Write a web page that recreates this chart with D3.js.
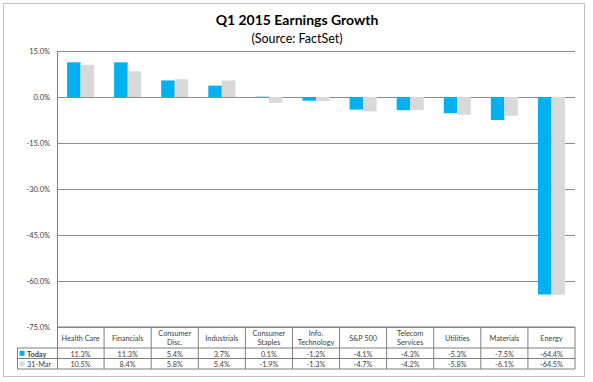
<!DOCTYPE html>
<html><head><meta charset="utf-8">
<script src="https://cdn.jsdelivr.net/npm/d3@7"></script>
<style>body{margin:0;background:#fff}svg{display:block}text{font-family:Lato,"Open Sans",sans-serif}</style>
</head><body>
<svg id="c" width="593" height="382"></svg>
<script>
const categories = ["Health Care","Financials","Consumer Disc.","Industrials","Consumer Staples","Info. Technology","S&P 500","Telecom Services","Utilities","Materials","Energy"];
const headerLines = [["Health Care"],["Financials"],["Consumer","Disc."],["Industrials"],["Consumer","Staples"],["Info.","Technology"],["S&P 500"],["Telecom","Services"],["Utilities"],["Materials"],["Energy"]];
const seriesNames = ["Today","31-Mar"];
const today = [11.3, 11.3, 5.4, 3.7, 0.1, -1.2, -4.1, -4.3, -5.3, -7.5, -64.4];
const mar31 = [10.5, 8.4, 5.8, 5.4, -1.9, -1.3, -4.7, -4.2, -5.8, -6.1, -64.5];
const yTicks = [15, 0, -15, -30, -45, -60, -75];
const colors = ["#00B0F0", "#D9D9D9"];

const svg = d3.select("#c");
const series = [today, mar31];
const fmt = v => v.toFixed(1) + "%";

// outer frame
svg.append("rect").attr("x",3.5).attr("y",3.5).attr("width",581).attr("height",373)
  .attr("fill","#fff").attr("stroke","#bfbfbf");

svg.append("text").attr("x",297).attr("y",25).attr("text-anchor","middle")
  .attr("font-size",14).attr("font-weight","bold").attr("fill","#000").text("Q1 2015 Earnings Growth");
svg.append("text").attr("x",297).attr("y",43).attr("text-anchor","middle")
  .attr("font-size",12.5).attr("fill","#000").text("(Source: FactSet)");

const L = 57, R = 575, T = 51, B = 327;
const y = d3.scaleLinear().domain([-75, 15]).range([B, T]);
const x0 = d3.scaleBand().domain(categories).range([L, R]).padding(0);
const bw = x0.bandwidth();
const x1 = d3.scaleBand().domain(seriesNames).range([bw*0.213, bw*0.787]).padding(0);

// gridlines
const yAxis = d3.axisLeft(y).tickValues(yTicks).tickSize(-(R-L)).tickFormat(fmt).tickPadding(7);
const ga = svg.append("g").attr("transform",`translate(${L},0)`).call(yAxis);
ga.select(".domain").remove();
ga.selectAll(".tick line").attr("stroke","#8c8c8c").attr("stroke-width",1);
ga.selectAll(".tick text").attr("font-size",7.5).attr("fill","#404040").attr("font-family","Lato,sans-serif");

// bars
categories.forEach((c, i) => {
  series.forEach((s, k) => {
    const v = s[i];
    svg.append("rect")
      .attr("x", x0(c) + x1(seriesNames[k]))
      .attr("width", x1.bandwidth())
      .attr("y", y(Math.max(0, v)))
      .attr("height", Math.abs(y(v) - y(0)))
      .attr("fill", colors[k]);
  });
});

// left axis line
svg.append("line").attr("x1",L+0.5).attr("x2",L+0.5).attr("y1",T).attr("y2",369).attr("stroke","#7f7f7f");

// table
const rowTop = [B, 348, 358.5, 369];
const tbl = svg.append("g");
const lineC = "#7f7f7f";
// horizontal lines
[348, 358.5, 369].forEach(yy => tbl.append("line").attr("x1",17).attr("x2",R).attr("y1",yy).attr("y2",yy).attr("stroke",lineC));
tbl.append("line").attr("x1",L).attr("x2",R).attr("y1",B).attr("y2",B).attr("stroke",lineC);
// vertical lines
categories.forEach(c => {
  const xx = x0(c) + bw;
  tbl.append("line").attr("x1",xx).attr("x2",xx).attr("y1",B).attr("y2",369).attr("stroke",lineC);
});
tbl.append("line").attr("x1",17.5).attr("x2",17.5).attr("y1",348).attr("y2",369).attr("stroke",lineC);

// header text
categories.forEach((c, i) => {
  const cx = x0(c) + bw/2;
  const lines = headerLines[i];
  const ys = lines.length === 1 ? [340.5] : [336, 344.5];
  lines.forEach((t, j) => {
    tbl.append("text").attr("x",cx).attr("y",ys[j]).attr("text-anchor","middle")
      .attr("font-size",7.3).attr("fill","#404040").text(t);
  });
  series.forEach((s, k) => {
    tbl.append("text").attr("x",cx).attr("y",[356.5,367][k]).attr("text-anchor","middle")
      .attr("font-size",7.3).attr("fill","#404040").text(fmt(s[i]));
  });
});
// legend labels
seriesNames.forEach((n, k) => {
  const yy = [353.3, 363.8][k];
  tbl.append("rect").attr("x",19.5).attr("y",yy-2.5).attr("width",5).attr("height",5).attr("fill",colors[k]);
  tbl.append("text").attr("x",27).attr("y",[356.5,367][k]).attr("font-size",7.3)
    .attr("fill","#404040").attr("font-weight", k===0?"bold":"normal").text(n);
});
</script>
</body></html>
